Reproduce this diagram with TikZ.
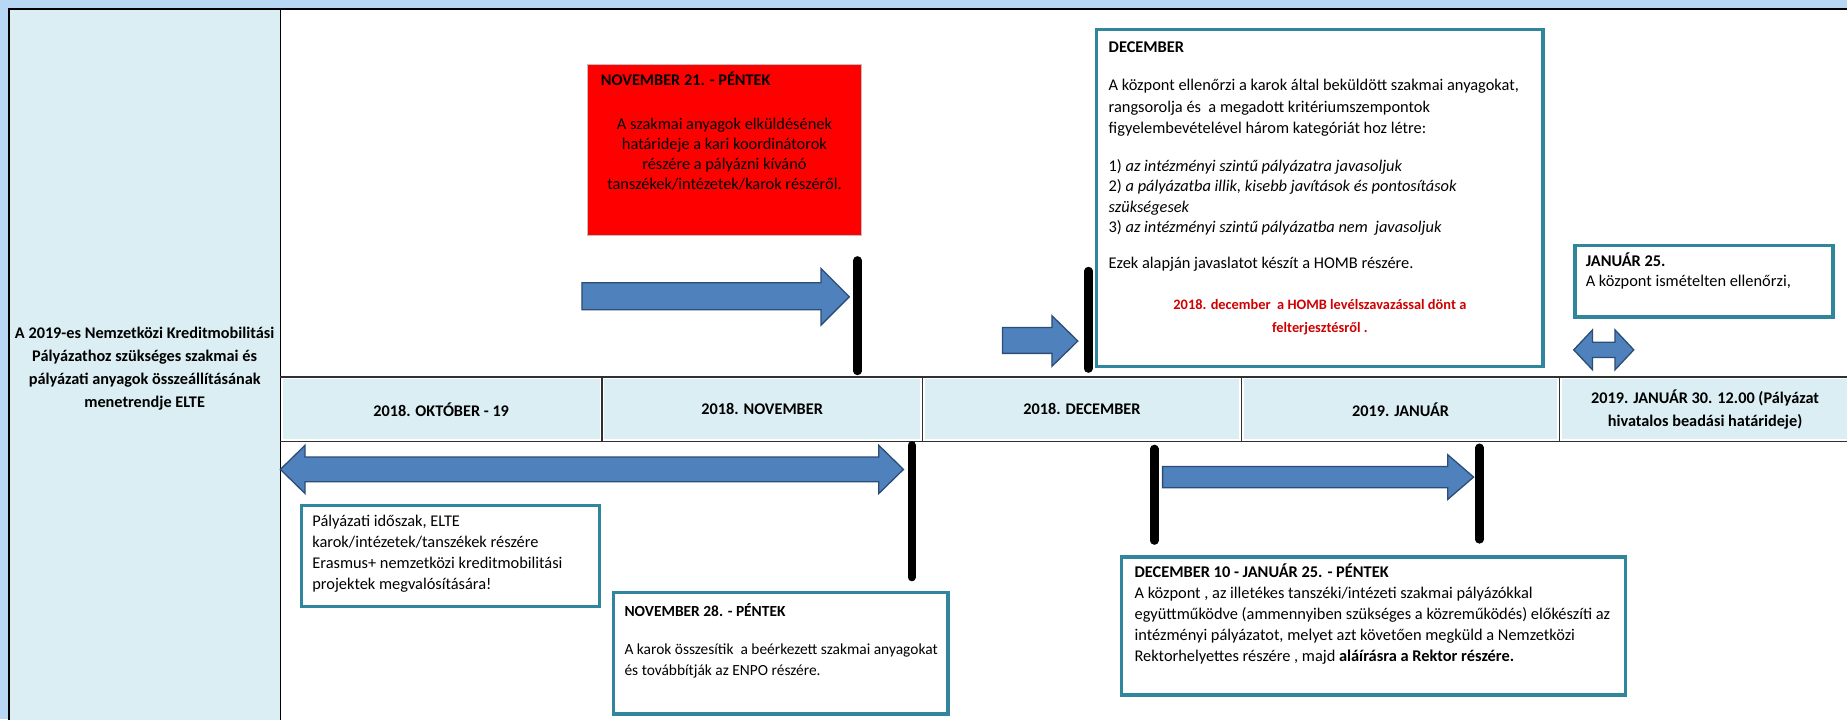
\documentclass[tikz,border=0pt]{standalone}
\usepackage{fontspec}
\setmainfont{Carlito}
\definecolor{bgblue}{HTML}{B7D7F4}
\definecolor{cellfill}{HTML}{DAEEF3}
\definecolor{boxteal}{HTML}{31859C}
\definecolor{arrowfill}{HTML}{4F81BD}
\definecolor{arrowline}{HTML}{2C4D75}
\definecolor{hombred}{HTML}{D00000}
\definecolor{gridline}{HTML}{303030}
\newcommand{\fls}{\rule{0pt}{12.5pt}}
\begin{document}
\begin{tikzpicture}[x=1pt,y=-1pt,
  tbox/.style={draw=boxteal, line width=3pt, fill=white, inner sep=0pt},
  redbox/.style={draw=gray!50, line width=0.8pt, fill=red, inner sep=0pt},
  cell/.style={fill=cellfill, inner sep=0pt, align=center,
     font=\bfseries\fontsize{13.8}{20}\selectfont},
  txt/.style={inner sep=0pt, anchor=north west, align=left,
     font=\fontsize{13.9}{18}\selectfont},
  blockarrow/.style={fill=arrowfill, draw=arrowline, line width=1.1pt, line join=miter},
  vbar/.style={line width=7pt, black, line cap=round},
  grid/.style={gridline, line width=1.2pt}
]
\useasboundingbox (0,0) rectangle (1568,610.4);
% background and frame
\fill[bgblue] (0,0) rectangle (1568,610.4);
\fill[white] (7.5,7.6) rectangle (1570,612);
\fill[cellfill] (8.2,8.4) rectangle (238,612);
\draw[black, line width=1.6pt] (7.5,612) -- (7.5,7.6) -- (1570,7.6);
\draw[black, line width=1.4pt] (238,7.6) -- (238,612);

% left title
\node[inner sep=0pt, anchor=north, align=center,
  font=\bfseries\fontsize{13.8}{19.5}\selectfont] (title) at (122.8,274.5)
  {\fls A 2019-es Nemzetközi Kreditmobilitási\\Pályázathoz szükséges szakmai és\\pályázati anyagok összeállításának\\menetrendje ELTE};

% timeline row
\node[cell, minimum width=269pt, minimum height=51pt] (oct) at (374.5,347.5) {2018. OKTÓBER - 19};
\node[cell, minimum width=268pt, minimum height=51pt] (nov) at (647,347.5) {2018. NOVEMBER};
\node[cell, minimum width=267pt, minimum height=51pt] (dec) at (918.5,347.5) {2018. DECEMBER};
\node[cell, minimum width=266pt, minimum height=51pt] (jan) at (1189,347.5) {2019. JANUÁR};
\node[cell, minimum width=243pt, minimum height=51pt] (deadline) at (1447.5,347.5) {2019. JANUÁR 30. 12.00 (Pályázat\\hivatalos beadási határideje)};
\draw[grid] (238,320) -- (1570,320);
\draw[grid] (238,375) -- (1570,375);
\draw[grid] (511,320) -- (511,375);
\draw[grid] (783,320) -- (783,375);
\draw[grid] (1054,320) -- (1054,375);
\draw[grid] (1324,320) -- (1324,375);

% red box NOVEMBER 21
\node[redbox, minimum width=232pt, minimum height=145pt] (nov21) at (615,127) {};
\node[txt, anchor=base west, font=\bfseries\fontsize{13.8}{18}\selectfont] (nov21title) at (510,72.5) {NOVEMBER 21. - PÉNTEK};
\node[txt, anchor=north, align=center, font=\fontsize{13.9}{17}\selectfont] (nov21body) at (615,97)
  {\fls A szakmai anyagok elküldésének\\határideje a kari koordinátorok\\részére a pályázni kívánó\\tanszékek/intézetek/karok részéről.};

% DECEMBER box
\node[tbox, minimum width=379pt, minimum height=286pt] (decbox) at (1120.5,168) {};
\node[txt, font=\fontsize{13.9}{18}\selectfont] (dectext) at (941,31.5)
  {\fls\textbf{DECEMBER}\\[15pt]
   A központ ellenőrzi a karok által beküldött szakmai anyagokat,\\
   rangsorolja és\ \ a megadott kritériumszempontok\\
   figyelembevételével három kategóriát hoz létre:\\[14pt]
   1) \textit{az intézményi szintű pályázatra javasoljuk}\\[-1pt]
   2) \textit{a pályázatba illik, kisebb javítások és pontosítások}\\
   \textit{szükségesek}\\[-1pt]
   3) \textit{az intézményi szintű pályázatba nem\ \ javasoljuk}\\[13pt]
   Ezek alapján javaslatot készít a HOMB részére.};
\node[inner sep=0pt, anchor=north, align=center, text=hombred,
  font=\bfseries\fontsize{12.2}{19.5}\selectfont] (homb) at (1120.5,250)
  {\fls 2018. december\ \ a HOMB levélszavazással dönt a\\felterjesztésről .};

% JANUAR 25 box
\node[tbox, minimum width=219pt, minimum height=60.5pt] (janbox) at (1446.5,238.8) {};
\node[txt, font=\fontsize{13.9}{17}\selectfont] (jantext) at (1346,213.5)
  {\fls\textbf{JANUÁR 25.}\\A központ ismételten ellenőrzi,};

% Palyazati idoszak box
\node[tbox, minimum width=253pt, minimum height=86pt] (palybox) at (382.5,472) {};
\node[txt] (palytext) at (265,434)
  {\fls Pályázati időszak, ELTE\\karok/intézetek/tanszékek részére\\Erasmus+ nemzetközi kreditmobilitási\\projektek megvalósítására!};

% NOVEMBER 28 box
\node[tbox, minimum width=284pt, minimum height=103pt] (nov28box) at (663,554.5) {};
\node[txt, font=\fontsize{13.1}{18}\selectfont] (nov28text) at (530,510.5)
  {\fls\textbf{NOVEMBER 28. - PÉNTEK}\\[14.5pt]
   A karok összesítik\ \ a beérkezett szakmai anyagokat\\
   és továbbítják az ENPO részére.};

% DECEMBER 10 box
\node[tbox, minimum width=428pt, minimum height=117pt] (dec10box) at (1166,531.5) {};
\node[txt, font=\fontsize{13.9}{17.8}\selectfont] (dec10text) at (963,477.5)
  {\fls\textbf{DECEMBER 10 - JANUÁR 25. - PÉNTEK}\\
   A központ , az illetékes tanszéki/intézeti szakmai pályázókkal\\
   együttműködve (ammennyiben szükséges a közreműködés) előkészíti az\\
   intézményi pályázatot, melyet azt követően megküld a Nemzetközi\\
   Rektorhelyettes részére , majd \textbf{aláírásra a Rektor részére.}};

% block arrows
\draw[blockarrow] (494,240) -- (697,240) -- (697,228) -- (721,252) -- (697,276) -- (697,263) -- (494,263) -- cycle;
\draw[blockarrow] (851,278) -- (893,278) -- (893,268) -- (915,289.5) -- (893,311) -- (893,300) -- (851,300) -- cycle;
\draw[blockarrow] (238,398.5) -- (259,378) -- (259,388) -- (746,388) -- (746,378) -- (767,398.5) -- (746,419) -- (746,409) -- (259,409) -- (259,419) -- cycle;
\draw[blockarrow] (987,396) -- (1229,396) -- (1229,386) -- (1251,405) -- (1229,424) -- (1229,414) -- (987,414) -- cycle;
\draw[blockarrow] (1336,297) -- (1352,280) -- (1352,290.5) -- (1371,290.5) -- (1371,280) -- (1387,297) -- (1371,314) -- (1371,303.5) -- (1352,303.5) -- (1352,314) -- cycle;

% black milestone bars
\draw[vbar] (728,221) -- (728,315);
\draw[vbar] (924,230) -- (924,313);
\draw[vbar] (774,378) -- (774,490);
\draw[vbar] (980,381) -- (980,459);
\draw[vbar] (1256,380) -- (1256,458);
\end{tikzpicture}
\end{document}
